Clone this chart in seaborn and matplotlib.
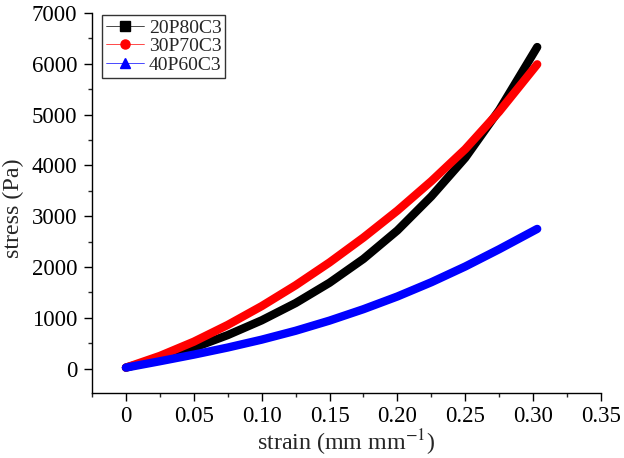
import matplotlib
matplotlib.use("Agg")
import matplotlib.pyplot as plt
from matplotlib.lines import Line2D
from matplotlib.ticker import MultipleLocator, FixedLocator, FixedFormatter
import seaborn as sns
import pandas as pd

strain = [0, 0.025, 0.05, 0.075, 0.10, 0.125, 0.15, 0.175, 0.20, 0.225, 0.25, 0.275, 0.303]
s20P80C3 = [20, 200, 410, 660, 950, 1290, 1690, 2160, 2720, 3390, 4150, 5090, 6330]
s30P70C3 = [20, 250, 530, 860, 1230, 1640, 2090, 2580, 3110, 3690, 4320, 5060, 5990]
s40P60C3 = [20, 145, 275, 415, 570, 745, 945, 1170, 1420, 1700, 2010, 2350, 2750]
series = ["20P80C3", "30P70C3", "40P60C3"]
colors = ["#000000", "#ff0000", "#0000ff"]
markers = ["s", "o", "^"]
xticks = [0, 0.05, 0.10, 0.15, 0.20, 0.25, 0.30, 0.35]
xticklabels = ["0", "0.05", "0.10", "0.15", "0.20", "0.25", "0.30", "0.35"]
yticks = [0, 1000, 2000, 3000, 4000, 5000, 6000, 7000]

rows = []
for name, vals in zip(series, [s20P80C3, s30P70C3, s40P60C3]):
    for x, y in zip(strain, vals):
        rows.append({"strain": x, "stress": y, "sample": name})
df = pd.DataFrame(rows)

sns.set_style("ticks")
plt.rcParams["font.family"] = ["Liberation Serif", "DejaVu Serif"]
plt.rcParams["mathtext.fontset"] = "stix"

fig = plt.figure(figsize=(6.24, 4.58), dpi=100)
ax = fig.add_axes([92 / 624, 1 - 393 / 458, 509 / 624, 380 / 458])

sns.lineplot(data=df, x="strain", y="stress", hue="sample", palette=colors,
             hue_order=series, linewidth=6, legend=False, ax=ax,
             solid_capstyle="round", solid_joinstyle="round", sort=True)

ax.set_xlim(-0.025, 0.35)
ax.set_ylim(-480, 7000)
ax.xaxis.set_major_locator(FixedLocator(xticks))
ax.xaxis.set_major_formatter(FixedFormatter(xticklabels))
ax.xaxis.set_minor_locator(MultipleLocator(0.025))
ax.yaxis.set_major_locator(FixedLocator(yticks))
ax.yaxis.set_minor_locator(MultipleLocator(500))
ax.tick_params(which="major", direction="out", length=5.5, width=1, labelsize=16.5, colors="black")
ax.tick_params(axis="x", which="major", pad=4)
ax.tick_params(axis="y", which="major", pad=5)
ax.tick_params(which="minor", direction="out", length=3, width=1)
for side in ["top", "right"]:
    ax.spines[side].set_visible(False)
for side in ["left", "bottom"]:
    ax.spines[side].set_linewidth(1)
    ax.spines[side].set_color("black")

ax.set_xlabel(r"strain (mm mm$^{-1}$)", fontsize=17.3, labelpad=0)
ax.set_ylabel("stress (Pa)", fontsize=17.3)
ax.yaxis.set_label_coords(-0.1336, 0.487)

handles = [Line2D([0], [0], color=c, lw=0.5, marker=m, markersize=6.5, markerfacecolor=c,
                  markeredgecolor=c) for c, m in zip(colors, markers)]
leg = ax.legend(handles, series, loc="upper left", bbox_to_anchor=(0.0196, 0.9947),
                fontsize=14, frameon=True, fancybox=False, edgecolor="black",
                handlelength=1.95, handletextpad=0.25, borderpad=0.2, labelspacing=0.05,
                borderaxespad=0)
leg.get_frame().set_linewidth(1)

fig.savefig("out.png", dpi=100)
